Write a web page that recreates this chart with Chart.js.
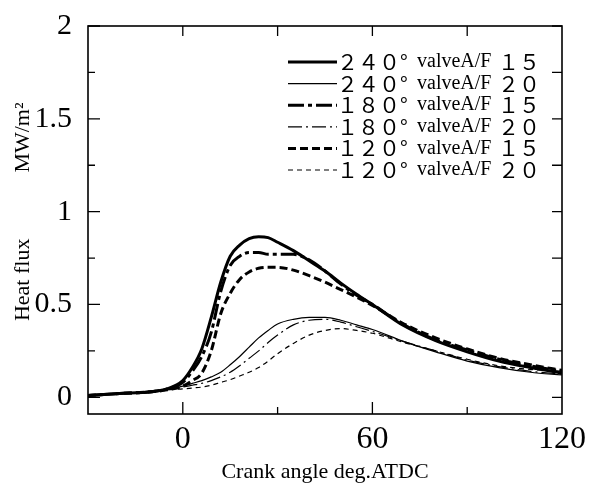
<!DOCTYPE html>
<html>
<head>
<meta charset="utf-8">
<script src="https://cdn.jsdelivr.net/npm/chart.js@4.4.1/dist/chart.umd.min.js"></script>
<style>
  html, body { margin: 0; padding: 0; background: #fff; }
  #wrap { width: 589px; height: 485px; }
</style>
</head>
<body>
<div id="wrap"><canvas id="heatChart" width="589" height="485"></canvas></div>
<script>
// crank angle (deg ATDC) shared by all curves
const crankAngle = [-30, -20, -10, -5, 0, 3, 6, 9, 12, 15, 18, 21, 24, 27, 30, 35, 40, 45, 50, 55, 60, 70, 80, 90, 100, 110, 120];

// heat flux, MW/m2
const v240af15 = [0.01, 0.02, 0.03, 0.045, 0.09, 0.16, 0.26, 0.43, 0.62, 0.76, 0.82, 0.855, 0.865, 0.86, 0.835, 0.79, 0.735, 0.68, 0.615, 0.555, 0.5, 0.385, 0.305, 0.245, 0.195, 0.16, 0.13];
const v240af20 = [0.01, 0.02, 0.03, 0.04, 0.06, 0.075, 0.09, 0.11, 0.135, 0.175, 0.22, 0.27, 0.32, 0.36, 0.395, 0.42, 0.43, 0.43, 0.415, 0.39, 0.365, 0.3, 0.245, 0.195, 0.16, 0.135, 0.12];
const v180af15 = [0.01, 0.02, 0.03, 0.045, 0.08, 0.14, 0.22, 0.35, 0.57, 0.71, 0.76, 0.78, 0.78, 0.77, 0.77, 0.77, 0.74, 0.68, 0.61, 0.55, 0.5, 0.39, 0.31, 0.255, 0.205, 0.17, 0.14];
const v180af20 = [0.01, 0.02, 0.03, 0.04, 0.055, 0.065, 0.075, 0.09, 0.11, 0.135, 0.17, 0.21, 0.25, 0.295, 0.335, 0.39, 0.415, 0.42, 0.405, 0.38, 0.355, 0.3, 0.25, 0.2, 0.165, 0.14, 0.125];
const v120af15 = [0.01, 0.02, 0.03, 0.04, 0.06, 0.09, 0.13, 0.25, 0.45, 0.56, 0.635, 0.675, 0.695, 0.7, 0.7, 0.685, 0.655, 0.62, 0.58, 0.54, 0.495, 0.395, 0.32, 0.26, 0.21, 0.175, 0.145];
const v120af20 = [0.01, 0.02, 0.03, 0.04, 0.045, 0.05, 0.055, 0.065, 0.08, 0.095, 0.115, 0.135, 0.16, 0.195, 0.235, 0.29, 0.335, 0.36, 0.37, 0.36, 0.345, 0.295, 0.25, 0.205, 0.17, 0.15, 0.14];

const legendAngle = ['２４０°', '２４０°', '１８０°', '１８０°', '１２０°', '１２０°'];
const legendAF = ['１５', '２０', '１５', '２０', '１５', '２０'];

const xTickLabels = [0, 60, 120];
const yTickLabels = [0, 0.5, 1, 1.5, 2];

const serif = '"Liberation Serif", "DejaVu Serif", serif';

function pts(vals) {
  return vals.map((v, i) => ({ x: crankAngle[i], y: v }));
}

const seriesVals = [v240af15, v240af20, v180af15, v180af20, v120af15, v120af20];
const widths = [3, 1.2, 3, 1.2, 3, 1.2];
const dashes = [[], [], [16, 4, 4, 4], [14, 4, 2, 4], [8, 4], [5, 4]];

const datasets = seriesVals.map((vals, i) => ({
  label: legendAngle[i] + '　valveA/F　' + legendAF[i],
  data: pts(vals),
  borderColor: '#000',
  borderWidth: widths[i],
  borderDash: dashes[i],
  pointRadius: 0,
  fill: false,
  cubicInterpolationMode: 'monotone'
}));

// frame, inward tick marks and the legend
const framePlugin = {
  id: 'frame',
  afterDraw(chart) {
    const { ctx, chartArea: a, scales: { x, y } } = chart;
    ctx.save();
    ctx.strokeStyle = '#000';
    ctx.lineWidth = 1.6;
    ctx.strokeRect(a.left, a.top, a.right - a.left, a.bottom - a.top);
    ctx.lineWidth = 1.3;
    ctx.beginPath();
    for (let v = 0; v <= 2.0001; v += 0.25) {
      const py = y.getPixelForValue(v);
      const major = Math.abs(v * 2 - Math.round(v * 2)) < 1e-6;
      ctx.moveTo(a.left, py); ctx.lineTo(a.left + (major ? 12 : 7), py);
      ctx.moveTo(a.right, py); ctx.lineTo(a.right - 10, py);
    }
    for (let v = 0; v < 120; v += 30) {
      const px = x.getPixelForValue(v);
      const major = v % 60 === 0;
      ctx.moveTo(px, a.bottom); ctx.lineTo(px, a.bottom - (major ? 12 : 7));
      ctx.moveTo(px, a.top); ctx.lineTo(px, a.top + 10);
    }
    ctx.stroke();

    // legend
    const lx0 = 288, lx1 = 337, ly0 = 62, dy = 21.6;
    ctx.fillStyle = '#000';
    ctx.textBaseline = 'middle';
    chart.data.datasets.forEach((ds, i) => {
      const ly = ly0 + i * dy;
      ctx.lineWidth = ds.borderWidth;
      ctx.setLineDash(ds.borderDash);
      ctx.beginPath();
      ctx.moveTo(lx0, ly); ctx.lineTo(lx1, ly);
      ctx.stroke();
      ctx.setLineDash([]);
      ctx.font = '21px "Noto Sans CJK JP"';
      ctx.fillText(legendAngle[i], lx1, ly);
      ctx.font = '20px ' + serif;
      ctx.fillText('valveA/F', 417, ly);
      ctx.font = '21px "Noto Sans CJK JP"';
      ctx.fillText(legendAF[i], 498, ly);
    });
    ctx.restore();
  }
};

new Chart(document.getElementById('heatChart'), {
  type: 'line',
  data: { datasets },
  options: {
    responsive: false,
    animation: false,
    layout: { padding: { top: 24, right: 27, left: 0, bottom: 0 } },
    plugins: { legend: { display: false }, tooltip: { enabled: false } },
    scales: {
      x: {
        type: 'linear',
        min: -30,
        max: 120,
        afterBuildTicks: s => { s.ticks = xTickLabels.map(v => ({ value: v })); },
        afterFit: s => { s.height = 71; },
        grid: { display: false },
        border: { display: false },
        ticks: { color: '#000', font: { family: serif, size: 32 }, padding: -2, maxRotation: 0, callback: v => String(v) },
        title: { display: true, text: 'Crank angle deg.ATDC', color: '#000', font: { family: serif, size: 22 }, padding: { top: 0, bottom: 0 } }
      },
      y: {
        min: -0.09,
        max: 2,
        afterBuildTicks: s => { s.ticks = yTickLabels.map(v => ({ value: v })); },
        afterFit: s => { s.width = 88; },
        grid: { display: false },
        border: { display: false },
        ticks: { color: '#000', font: { family: serif, size: 30 }, padding: 8, callback: v => String(v) },
        title: { display: true, text: '\u2002 Heat flux　　　MW/m²', color: '#000', font: { family: serif, size: 22 }, padding: { top: 10, bottom: 0 } }
      }
    }
  },
  plugins: [framePlugin]
});
</script>
</body>
</html>
